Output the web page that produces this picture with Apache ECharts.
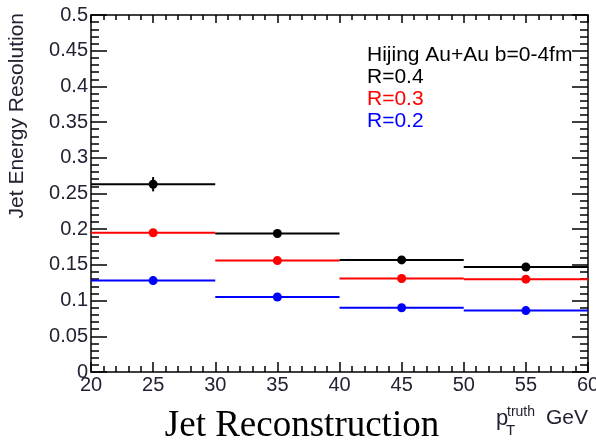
<!DOCTYPE html>
<html>
<head>
<meta charset="utf-8">
<script src="https://cdn.jsdelivr.net/npm/echarts@6/dist/echarts.min.js"></script>
<style>
  html, body { margin: 0; padding: 0; background: #fff; }
  #chart { width: 596px; height: 442px; }
</style>
</head>
<body>
<div id="chart"></div>
<script>
// Bin edges in p_T^truth (GeV)
var binEdges = [20, 30, 40, 50, 60];
// Jet energy resolution per bin for each cone radius
var resR04 = [0.263, 0.194, 0.157, 0.147];
var errR04 = [0.010, 0.003, 0.003, 0.003];
var resR03 = [0.195, 0.156, 0.131, 0.130];
var errR03 = [0.003, 0.003, 0.002, 0.002];
var resR02 = [0.128, 0.105, 0.090, 0.086];
var errR02 = [0.002, 0.002, 0.002, 0.002];
var legendLines = ['Hijing Au+Au b=0-4fm', 'R=0.4', 'R=0.3', 'R=0.2'];
var xTicks = { min: 20, max: 60, step: 5 };
var yTicks = { min: 0, max: 0.5, step: 0.05 };

function binRows(values, errors) {
  return values.map(function (v, i) {
    return [binEdges[i], binEdges[i + 1], v, errors[i]];
  });
}

function histSeries(name, color, values, errors) {
  return {
    name: name,
    type: 'custom',
    xAxisIndex: 0,
    yAxisIndex: 0,
    clip: false,
    encode: { x: [0, 1], y: 2 },
    data: binRows(values, errors),
    renderItem: function (params, api) {
      var lo = api.value(0), hi = api.value(1), v = api.value(2), e = api.value(3);
      var pL = api.coord([lo, v]);
      var pR = api.coord([hi, v]);
      var pC = api.coord([(lo + hi) / 2, v]);
      var pUp = api.coord([(lo + hi) / 2, v + e]);
      var pDn = api.coord([(lo + hi) / 2, v - e]);
      return {
        type: 'group',
        children: [
          { type: 'line', shape: { x1: pL[0], y1: pL[1], x2: pR[0], y2: pR[1] },
            style: { stroke: color, lineWidth: 2 } },
          { type: 'line', shape: { x1: pUp[0], y1: pUp[1], x2: pDn[0], y2: pDn[1] },
            style: { stroke: color, lineWidth: 2 } },
          { type: 'circle', shape: { cx: pC[0], cy: pC[1], r: 4.5 },
            style: { fill: color } }
        ]
      };
    }
  };
}

var labelFont = { fontFamily: 'Liberation Sans', fontSize: 20, color: '#222233' };

function xAxisDef(pos, showLabels) {
  return {
    type: 'value', position: pos,
    min: xTicks.min, max: xTicks.max, interval: xTicks.step,
    axisLine: { show: true, onZero: false, lineStyle: { color: '#000', width: 1.5 } },
    axisTick: { show: true, inside: true, length: showLabels ? 10 : 8, lineStyle: { color: '#000', width: 1.5 } },
    minorTick: { show: true, splitNumber: 5, length: showLabels ? 6 : 5, lineStyle: { color: '#000', width: 1.5 } },
    splitLine: { show: false },
    axisLabel: Object.assign({ show: showLabels, margin: 3 }, labelFont)
  };
}

function yAxisDef(pos, showLabels) {
  return {
    type: 'value', position: pos,
    min: yTicks.min, max: yTicks.max, interval: yTicks.step,
    axisLine: { show: true, onZero: false, lineStyle: { color: '#000', width: 1.5 } },
    axisTick: { show: true, inside: true, length: 16, lineStyle: { color: '#000', width: 1.5 } },
    minorTick: { show: true, splitNumber: 5, length: 8, lineStyle: { color: '#000', width: 1.5 } },
    splitLine: { show: false },
    axisLabel: Object.assign({ show: showLabels, margin: 3 }, labelFont)
  };
}

var legendColors = ['#000000', '#000000', '#ff0000', '#0000ff'];
var legendGraphics = legendLines.map(function (t, i) {
  return {
    type: 'text', x: 367, y: 55 + i * 22,
    style: { text: t, fill: legendColors[i], fontFamily: 'Liberation Sans', fontSize: 21,
             align: 'left', verticalAlign: 'middle' }
  };
});

var chart = echarts.init(document.getElementById('chart'), null, { renderer: 'canvas' });
chart.setOption({
  animation: false,
  backgroundColor: '#ffffff',
  grid: { left: 91, right: 8, top: 15, bottom: 70, containLabel: false, outerBoundsMode: 'none' },
  xAxis: [xAxisDef('bottom', true), xAxisDef('top', false)],
  yAxis: [yAxisDef('left', true), yAxisDef('right', false)],
  series: [
    histSeries('R=0.2', '#0000ff', resR02, errR02),
    histSeries('R=0.3', '#ff0000', resR03, errR03),
    histSeries('R=0.4', '#000000', resR04, errR04)
  ],
  graphic: legendGraphics.concat([
    { type: 'text', x: 17, y: 13, rotation: Math.PI / 2,
      style: { text: 'Jet Energy Resolution', fill: '#222233', fontFamily: 'Liberation Sans',
               fontSize: 21, align: 'right', verticalAlign: 'middle' } },
    { type: 'text', x: 302, y: 426,
      style: { text: 'Jet Reconstruction', fill: '#000', fontFamily: 'Liberation Serif',
               fontSize: 37, align: 'center', verticalAlign: 'middle' } },
    { type: 'text', x: 496, y: 419,
      style: { text: 'p', fill: '#222233', fontFamily: 'Liberation Sans', fontSize: 22,
               align: 'left', verticalAlign: 'middle' } },
    { type: 'text', x: 507, y: 412,
      style: { text: 'truth', fill: '#222233', fontFamily: 'Liberation Sans', fontSize: 14,
               align: 'left', verticalAlign: 'middle' } },
    { type: 'text', x: 506, y: 431,
      style: { text: 'T', fill: '#222233', fontFamily: 'Liberation Sans', fontSize: 15,
               align: 'left', verticalAlign: 'middle' } },
    { type: 'text', x: 546, y: 418,
      style: { text: 'GeV', fill: '#222233', fontFamily: 'Liberation Sans', fontSize: 21,
               align: 'left', verticalAlign: 'middle' } }
  ])
});
</script>
</body>
</html>
